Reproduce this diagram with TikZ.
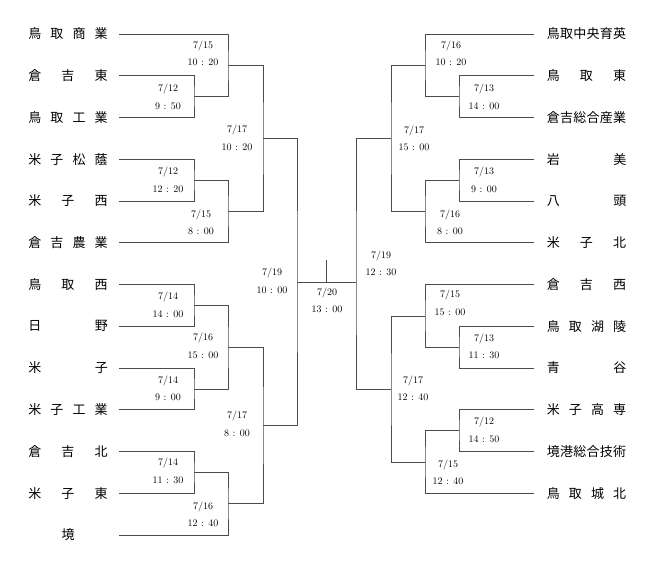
\documentclass[tikz,border=0pt]{standalone}
\usepackage{fontspec}
\newfontfamily\jpfont{Noto Sans CJK JP}
\usetikzlibrary{positioning,calc}

\newcommand{\teamname}[1]{\makebox[79.5pt]{#1}}

\tikzset{
  team/.style={inner sep=0pt, font=\jpfont\fontsize{13}{15}\selectfont},
  lteam/.style={team, outer xsep=11.25pt},
  rteam/.style={team, outer xsep=12.75pt},
  date/.style={align=center, inner sep=0pt, font=\fontsize{10}{17.5}\selectfont},
  bracket/.style={draw=black!70, line width=0.6pt}
}

\begin{document}
\begin{tikzpicture}[x=1pt,y=-1pt]
  \useasboundingbox (0,0) rectangle (654,568);

  % left side teams
  \node[lteam] (L1) at (68,34) {\teamname{鳥\hfill 取\hfill 商\hfill 業}};
  \node[lteam] (L2) at (68,75.75) {\teamname{倉\hfill 吉\hfill 東}};
  \node[lteam] (L3) at (68,117.5) {\teamname{鳥\hfill 取\hfill 工\hfill 業}};
  \node[lteam] (L4) at (68,159.25) {\teamname{米\hfill 子\hfill 松\hfill 蔭}};
  \node[lteam] (L5) at (68,201) {\teamname{米\hfill 子\hfill 西}};
  \node[lteam] (L6) at (68,242.75) {\teamname{倉\hfill 吉\hfill 農\hfill 業}};
  \node[lteam] (L7) at (68,284.5) {\teamname{鳥\hfill 取\hfill 西}};
  \node[lteam] (L8) at (68,326.25) {\teamname{日\hfill 野}};
  \node[lteam] (L9) at (68,368) {\teamname{米\hfill 子}};
  \node[lteam] (L10) at (68,409.75) {\teamname{米\hfill 子\hfill 工\hfill 業}};
  \node[lteam] (L11) at (68,451.5) {\teamname{倉\hfill 吉\hfill 北}};
  \node[lteam] (L12) at (68,493.25) {\teamname{米\hfill 子\hfill 東}};
  \node[lteam] (L13) at (68,535) {\teamname{境}};

  % right side teams
  \node[rteam] (R1) at (586.5,34) {\teamname{鳥\hfill 取\hfill 中\hfill 央\hfill 育\hfill 英}};
  \node[rteam] (R2) at (586.5,75.75) {\teamname{鳥\hfill 取\hfill 東}};
  \node[rteam] (R3) at (586.5,117.5) {\teamname{倉\hfill 吉\hfill 総\hfill 合\hfill 産\hfill 業}};
  \node[rteam] (R4) at (586.5,159.25) {\teamname{岩\hfill 美}};
  \node[rteam] (R5) at (586.5,201) {\teamname{八\hfill 頭}};
  \node[rteam] (R6) at (586.5,242.75) {\teamname{米\hfill 子\hfill 北}};
  \node[rteam] (R7) at (586.5,284.5) {\teamname{倉\hfill 吉\hfill 西}};
  \node[rteam] (R8) at (586.5,326.25) {\teamname{鳥\hfill 取\hfill 湖\hfill 陵}};
  \node[rteam] (R9) at (586.5,368) {\teamname{青\hfill 谷}};
  \node[rteam] (R10) at (586.5,409.75) {\teamname{米\hfill 子\hfill 高\hfill 専}};
  \node[rteam] (R11) at (586.5,451.5) {\teamname{境\hfill 港\hfill 総\hfill 合\hfill 技\hfill 術}};
  \node[rteam] (R12) at (586.5,493.25) {\teamname{鳥\hfill 取\hfill 城\hfill 北}};

  % junctions, left
  \coordinate (m1) at (194,96.6);
  \coordinate (m2) at (228,65.3);
  \coordinate (m3) at (194,180.1);
  \coordinate (m4) at (228,211.4);
  \coordinate (m5) at (263,138.4);
  \coordinate (m6) at (194,305.4);
  \coordinate (m7) at (194,388.9);
  \coordinate (m8) at (228,347.1);
  \coordinate (m9) at (194,472.4);
  \coordinate (m10) at (228,503.7);
  \coordinate (m11) at (263,425.4);
  \coordinate (m12) at (297,281.9);
  % junctions, right
  \coordinate (n1) at (459,96.6);
  \coordinate (n2) at (425,65.3);
  \coordinate (n3) at (459,180.1);
  \coordinate (n4) at (425,211.4);
  \coordinate (n5) at (391,138.4);
  \coordinate (n6) at (459,347.1);
  \coordinate (n7) at (425,315.8);
  \coordinate (n8) at (459,430.6);
  \coordinate (n9) at (425,461.9);
  \coordinate (n10) at (391,388.9);
  \coordinate (n11) at (356,281.9);
  % final
  \coordinate (fin) at (326.5,281.9);
  \coordinate (fintop) at (326.5,260);

  \begin{scope}[bracket]
    \draw (L2.east) -| (m1) |- (L3.east);
    \draw (L1.east) -| (m2) |- (m1);
    \draw (L4.east) -| (m3) |- (L5.east);
    \draw (m3) -| (m4) |- (L6.east);
    \draw (m2) -| (m5) |- (m4);
    \draw (L7.east) -| (m6) |- (L8.east);
    \draw (L9.east) -| (m7) |- (L10.east);
    \draw (m6) -| (m8) |- (m7);
    \draw (L11.east) -| (m9) |- (L12.east);
    \draw (m9) -| (m10) |- (L13.east);
    \draw (m8) -| (m11) |- (m10);
    \draw (m5) -| (m12) |- (m11);

    \draw (R2.west) -| (n1) |- (R3.west);
    \draw (R1.west) -| (n2) |- (n1);
    \draw (R4.west) -| (n3) |- (R5.west);
    \draw (n3) -| (n4) |- (R6.west);
    \draw (n2) -| (n5) |- (n4);
    \draw (R8.west) -| (n6) |- (R9.west);
    \draw (R7.west) -| (n7) |- (n6);
    \draw (R10.west) -| (n8) |- (R11.west);
    \draw (n8) -| (n9) |- (R12.west);
    \draw (n7) -| (n10) |- (n9);
    \draw (n5) -| (n11) |- (n10);

    \draw (m12) -- (n11);
    \draw (fintop) -- (fin);
  \end{scope}

  % dates and times
  \node[date] (d1) at (168,97) {7/12\\9 : 50};
  \node[date] (d2) at (203,53.5) {7/15\\10 : 20};
  \node[date] (d3) at (168,180) {7/12\\12 : 20};
  \node[date] (d4) at (201,222.5) {7/15\\8 : 00};
  \node[date] (d5) at (237,138) {7/17\\10 : 20};
  \node[date] (d6) at (168,305) {7/14\\14 : 00};
  \node[date] (d7) at (168,388.5) {7/14\\9 : 00};
  \node[date] (d8) at (203,346) {7/16\\15 : 00};
  \node[date] (d9) at (168,471) {7/14\\11 : 30};
  \node[date] (d10) at (203,514.5) {7/16\\12 : 40};
  \node[date] (d11) at (237,424) {7/17\\8 : 00};
  \node[date] (d12) at (272,281) {7/19\\10 : 00};
  \node[date] (d13) at (327,300.5) {7/20\\13 : 00};

  \node[date] (e1) at (484,97) {7/13\\14 : 00};
  \node[date] (e2) at (451,53.5) {7/16\\10 : 20};
  \node[date] (e3) at (484,180) {7/13\\9 : 00};
  \node[date] (e4) at (450,222.5) {7/16\\8 : 00};
  \node[date] (e5) at (414,138.5) {7/17\\15 : 00};
  \node[date] (e6) at (484,346.5) {7/13\\11 : 30};
  \node[date] (e7) at (450,303) {7/15\\15 : 00};
  \node[date] (e8) at (484,430) {7/12\\14 : 50};
  \node[date] (e9) at (448,472.5) {7/15\\12 : 40};
  \node[date] (e10) at (413,388.5) {7/17\\12 : 40};
  \node[date] (e11) at (381,263.5) {7/19\\12 : 30};
\end{tikzpicture}
\end{document}
